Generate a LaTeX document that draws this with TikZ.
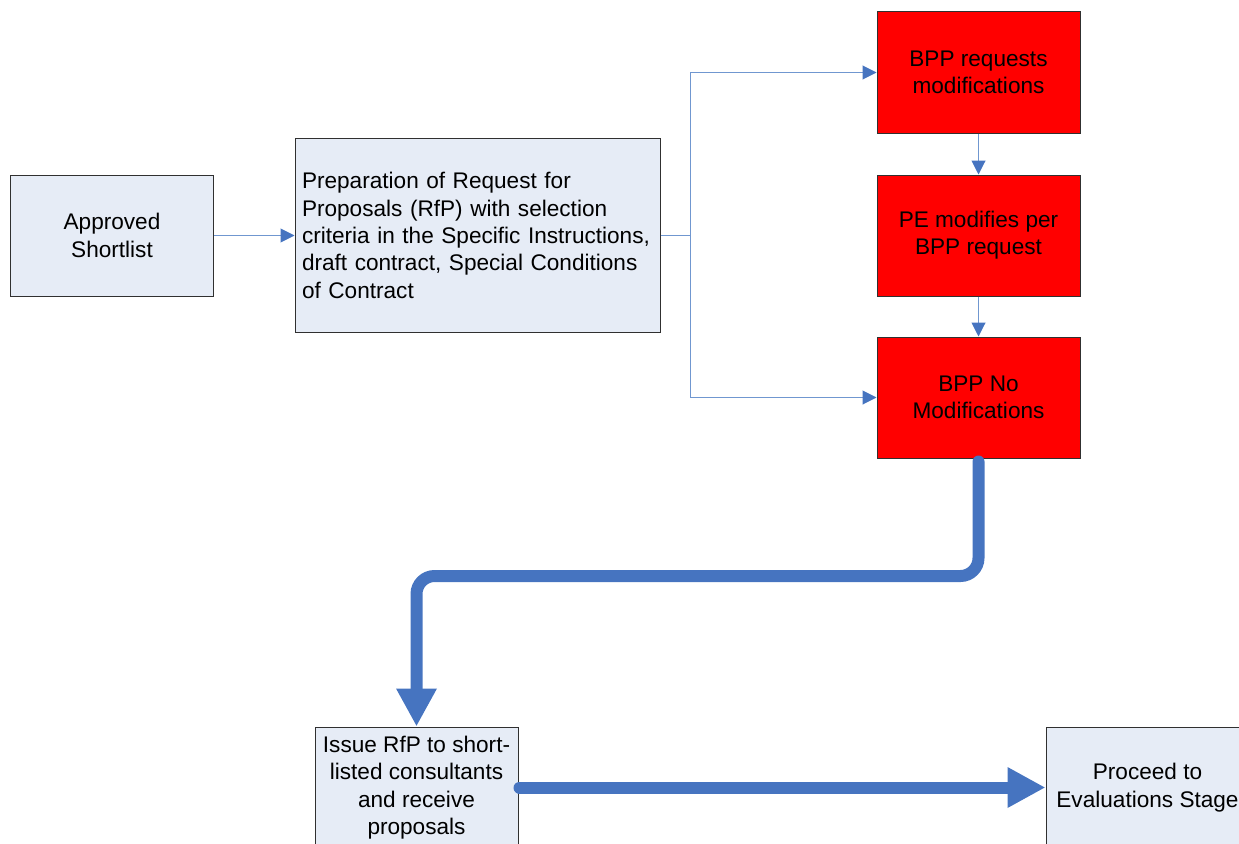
\documentclass[tikz,border=0pt]{standalone}
\usepackage{fontspec}
\setmainfont{Liberation Sans}
\usetikzlibrary{arrows.meta}
\definecolor{boxfill}{HTML}{E6ECF6}
\definecolor{boxline}{HTML}{303030}
\definecolor{flowred}{HTML}{FF0000}
\definecolor{thinline}{HTML}{7097D0}
\definecolor{flowblue}{HTML}{4674C0}
\tikzset{
  procbox/.style={draw=boxline, line width=1pt, fill=boxfill, minimum width=203pt,
    minimum height=121pt, inner sep=0pt, align=center, font=\fontsize{22.6}{27.3}\selectfont},
  redbox/.style={procbox, fill=flowred},
  thinarrow/.style={draw=thinline, line width=1pt,
    -{Triangle[width=14pt,length=14pt,color=flowblue]}},
  thinlink/.style={draw=thinline, line width=1pt},
  thickarrow/.style={draw=flowblue, line width=12pt, line cap=round,
    -{Triangle[width=38pt,length=38pt,color=flowblue]}}
}
\begin{document}
\begin{tikzpicture}[x=1pt,y=-1pt]
\useasboundingbox (0,0) rectangle (1239,843);
\clip (0,0) rectangle (1239,843);
% process boxes
\node[procbox] (approved) at (112,235.5) {Approved\\Shortlist};
\node[procbox, minimum width=365pt, minimum height=194pt, text width=351pt, align=left]
  (prep) at (477.5,235.5) {Preparation of Request for\\Proposals (RfP) with selection\\criteria in the Specific Instructions,\\draft contract, Special Conditions\\of Contract};
\node[redbox] (bppreq) at (978.5,72.5) {BPP requests\\modifications};
\node[redbox] (pemod) at (978.5,235.5) {PE modifies per\\BPP request};
\node[redbox] (bppno) at (978.5,397.5) {BPP No\\Modifications};
\node[procbox] (issue) at (416.5,787.5) {Issue RfP to short-\\listed consultants\\and receive\\proposals};
\node[procbox] (proceed) at (1147.5,787.5) {Proceed to\\Evaluations Stage};
% thin connectors
\coordinate (split) at (690,235.5);
\draw[thinarrow] (approved.east) -- (prep.west);
\draw[thinlink] (prep.east) -- (split);
\draw[thinarrow] (split) |- (bppreq.west);
\draw[thinarrow] (split) |- (bppno.west);
\draw[thinarrow] (bppreq.south) -- (pemod.north);
\draw[thinarrow] (pemod.south) -- (bppno.north);
% thick connectors
\coordinate (bend1) at (978.5,576);
\coordinate (bend2) at (416.5,576);
\draw[thickarrow, rounded corners=18pt] ([yshift=-3pt]bppno.south) -- (bend1) -- (bend2) -- (issue.north);
\draw[thickarrow] ([xshift=1pt]issue.east) -- (proceed.west);
\end{tikzpicture}
\end{document}
